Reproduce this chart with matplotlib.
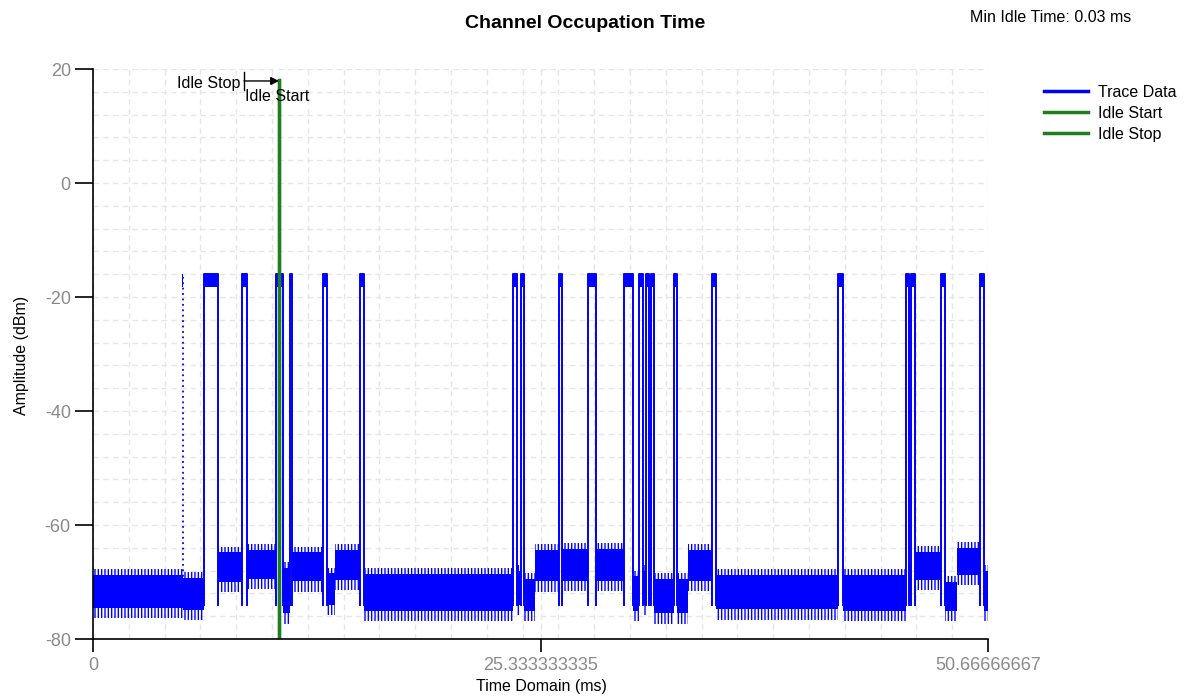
# Channel occupation time chart (time domain trace + idle markers)
import matplotlib
matplotlib.use("Agg")
import matplotlib.pyplot as plt
from matplotlib.lines import Line2D
import numpy as np

# ---- data ----
x_max = 50.66666667
x_ticks = [0, 25.333333335, 50.66666667]
x_tick_labels = ["0", "25.333333335", "50.66666667"]
y_ticks = [-80, -60, -40, -20, 0, 20]
y_tick_labels = ["-80", "-60", "-40", "-20", "0", "20"]

# noise floor segments (ms) with band top / bottom (dBm)
seg_start = [0.0, 5.10, 7.06, 8.73, 10.74, 11.27, 13.23, 13.70, 15.34, 23.98,
             24.42, 25.05, 26.55, 28.47, 30.55, 31.15, 31.46, 31.78, 33.06,
             33.70, 35.27, 42.46, 46.20, 46.53, 48.23, 48.90, 50.44]
seg_end = [5.07, 6.30, 8.45, 10.36, 11.15, 13.04, 13.70, 15.12, 23.79, 24.21,
           25.05, 26.36, 28.00, 30.08, 30.89, 31.31, 31.57, 32.87, 33.70,
           35.04, 42.18, 46.03, 46.31, 48.00, 48.90, 50.21, 50.667]
seg_top = [-68.8, -69.3, -64.8, -64.3, -67.5, -64.8, -68.5, -64.4, -68.6, -68.0,
           -69.5, -64.4, -64.2, -64.2, -69.0, -68.0, -68.0, -69.5, -69.5,
           -64.3, -68.8, -68.8, -67.0, -64.7, -70.0, -64.0, -68.0]
seg_bot = [-74.6, -74.9, -70.0, -69.5, -75.5, -69.9, -74.0, -69.6, -75.0, -74.0,
           -75.0, -69.9, -69.8, -69.8, -75.0, -74.0, -74.0, -75.5, -75.5,
           -69.8, -74.8, -75.0, -74.0, -69.6, -75.0, -68.8, -75.0]

# bursts (ms) reaching the top level
burst_start = [6.30, 8.45, 10.36, 11.15, 13.04, 15.12, 23.79, 24.21, 26.36, 28.00,
               30.08, 30.89, 31.31, 31.57, 32.87, 35.04, 42.18, 46.03, 46.31,
               48.00, 50.21]
burst_end = [7.06, 8.73, 10.74, 11.27, 13.23, 15.34, 23.98, 24.42, 26.55, 28.47,
             30.55, 31.15, 31.46, 31.78, 33.06, 35.27, 42.46, 46.20, 46.53,
             48.23, 50.44]
burst_top = -15.9
burst_block = -18.3
dotted_edge = [5.08]

idle_start = 10.53
idle_stop = 10.53
idle_stop_mark = 8.55
min_idle = "Min Idle Time: 0.03 ms"

blue = "#0000ff"
green = "#1f7f1f"

plt.rcParams["font.family"] = ["Liberation Sans", "DejaVu Sans"]
plt.rcParams["hatch.linewidth"] = 1.0
plt.rcParams["hatch.color"] = blue

fig = plt.figure(figsize=(11.91, 6.99), dpi=100)
ax = fig.add_axes([93 / 1191, 1 - 639 / 699, 895 / 1191, 570 / 699])

# noise floor bands, with a hatched fringe for the spikes
for t0, t1, hi, lo in zip(seg_start, seg_end, seg_top, seg_bot):
    ax.fill_between([t0, t1], [lo - 1.8, lo - 1.8], [lo, lo],
                    facecolor="none", edgecolor=blue, hatch="|||||", lw=0)
    ax.fill_between([t0, t1], [hi, hi], [hi + 1.0, hi + 1.0],
                    facecolor="none", edgecolor=blue, hatch="|||||", lw=0)
    ax.fill_between([t0, t1], [lo, lo], [hi, hi], color=blue, lw=0)

# bursts: rising edge, top block, falling edge
for s, e in zip(burst_start, burst_end):
    ax.plot([s, s, e, e], [-74, burst_top, burst_top, -74], color=blue, lw=1.4)
    ax.fill_between([s, e], [burst_block, burst_block], [burst_top, burst_top],
                    color=blue, lw=0)

for t in dotted_edge:
    ax.plot([t, t], [-70, burst_top], color=blue, lw=1.3, ls=(0, (1, 2)))
    ax.fill_between([t - 0.03, t + 0.03], [burst_block, burst_block],
                    [burst_top, burst_top], color=blue, lw=0)

# idle markers
ax.plot([idle_stop, idle_stop], [-80, 18], color=green, lw=2.4)
ax.plot([idle_start, idle_start], [-80, 18], color=green, lw=2.4)

ax.plot([idle_stop_mark, idle_stop_mark], [16.4, 19.5], color="black", lw=1)
ax.annotate("", xy=(idle_start, 17.9), xytext=(idle_stop_mark, 17.9),
            arrowprops=dict(arrowstyle="-|>", color="black", lw=1,
                            mutation_scale=12, shrinkA=0, shrinkB=0))
ax.text(idle_stop_mark - 0.2, 17.4, "Idle Stop", ha="right", va="center", fontsize=11.5)
ax.text(idle_stop_mark + 0.05, 15.1, "Idle Start", ha="left", va="center", fontsize=11.5)

# axes styling
ax.set_xlim(0, x_max)
ax.set_ylim(-80, 20)
ax.set_xticks(x_ticks)
ax.set_xticklabels(x_tick_labels)
ax.set_yticks(y_ticks)
ax.set_yticklabels(y_tick_labels)
ax.set_xticks(np.linspace(0, x_max, 26), minor=True)
ax.set_yticks(np.arange(-80, 21, 4), minor=True)
ax.tick_params(which="minor", length=0)
ax.tick_params(axis="y", which="major", length=13, width=1.2, pad=3,
               labelsize=13, labelcolor="#8a8a8a")
ax.tick_params(axis="x", which="major", length=9, width=1.2, pad=4,
               labelsize=13, labelcolor="#8a8a8a")
ax.grid(which="both", color="#e6e6e6", ls=(0, (4, 3)), lw=1)
ax.set_axisbelow(True)
for side in ["top", "right"]:
    ax.spines[side].set_visible(False)
for side in ["left", "bottom"]:
    ax.spines[side].set_linewidth(1.2)

ax.set_xlabel("Time Domain (ms)", fontsize=11.5, va="center")
ax.set_ylabel("Amplitude (dBm)", fontsize=11.5, va="center")
ax.xaxis.set_label_coords(0.5006, -0.084)
ax.yaxis.set_label_coords(-0.080, 0.498)

fig.text(585 / 1191, 1 - 24 / 699, "Channel Occupation Time", ha="center",
         va="center", fontsize=14, weight="bold")
fig.text(1051 / 1191, 1 - 18 / 699, min_idle, ha="center", va="center",
         fontsize=11.5)

handles = [Line2D([], [], color=blue, lw=2.5),
           Line2D([], [], color=green, lw=2.5),
           Line2D([], [], color=green, lw=2.5)]
fig.legend(handles, ["Trace Data", "Idle Start", "Idle Stop"], loc="upper left",
           bbox_to_anchor=(1044 / 1191, 1 - 85 / 699), frameon=False,
           fontsize=11.5, handlelength=2.75, handletextpad=0.6,
           labelspacing=0.36, borderpad=0, borderaxespad=0)

fig.savefig("out.png", dpi=100)
